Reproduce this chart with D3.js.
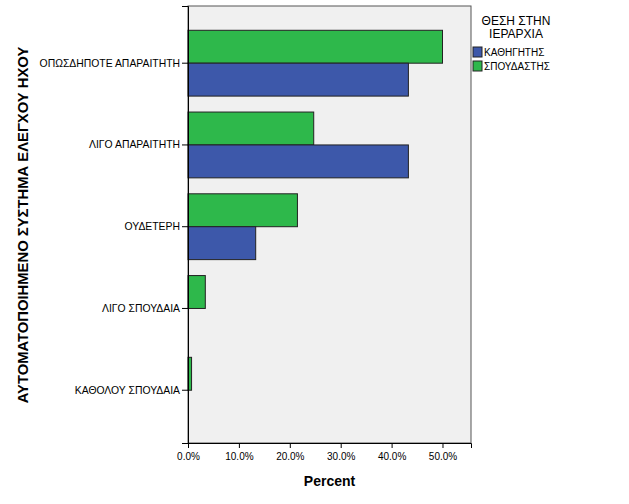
<!DOCTYPE html>
<html>
<head>
<meta charset="utf-8">
<script src="https://cdn.jsdelivr.net/npm/d3@7"></script>
<style>
  body { margin: 0; background: #fff; }
  svg { font-family: "Liberation Sans", Arial, sans-serif; }
</style>
</head>
<body>
<div id="chart"></div>
<script>
// categories top to bottom
const categories = ["ΟΠΩΣΔΗΠΟΤΕ ΑΠΑΡΑΙΤΗΤΗ", "ΛΙΓΟ ΑΠΑΡΑΙΤΗΤΗ", "ΟΥΔΕΤΕΡΗ", "ΛΙΓΟ ΣΠΟΥΔΑΙΑ", "ΚΑΘΟΛΟΥ ΣΠΟΥΔΑΙΑ"];
const seriesNames = ["ΚΑΘΗΓΗΤΗΣ", "ΣΠΟΥΔΑΣΤΗΣ"];
const profValues = [43.3, 43.3, 13.3, 0, 0];
const studValues = [50.0, 24.7, 21.5, 3.4, 0.7];
const xTicks = [0, 10, 20, 30, 40, 50];

const width = 629, height = 504;
const margin = { top: 6, right: 158, bottom: 61, left: 188 };
const colors = { "ΚΑΘΗΓΗΤΗΣ": "#3d58aa", "ΣΠΟΥΔΑΣΤΗΣ": "#2eb84b" };

const svg = d3.select("#chart").append("svg")
    .attr("width", width)
    .attr("height", height);

const x = d3.scaleLinear()
    .domain([0, 55.6])
    .range([margin.left, width - margin.right]);

const y = d3.scaleBand()
    .domain(categories)
    .range([margin.top, height - margin.bottom])
    .paddingInner(0.195)
    .paddingOuter(0.27)
    .align(0.55);

// green drawn on top half, blue on bottom half
const ySub = d3.scaleBand()
    .domain(["ΣΠΟΥΔΑΣΤΗΣ", "ΚΑΘΗΓΗΤΗΣ"])
    .range([0, y.bandwidth()]);

// plot background
svg.append("rect")
    .attr("x", margin.left)
    .attr("y", margin.top)
    .attr("width", width - margin.right - margin.left)
    .attr("height", height - margin.bottom - margin.top)
    .attr("fill", "#f0f0f0")
    .attr("stroke", "#555")
    .attr("stroke-width", 1);

const rows = categories.map((c, i) => ({
    cat: c,
    values: [
        { name: "ΣΠΟΥΔΑΣΤΗΣ", v: studValues[i] },
        { name: "ΚΑΘΗΓΗΤΗΣ", v: profValues[i] }
    ]
}));

svg.append("g")
    .selectAll("g")
    .data(rows)
    .enter()
    .append("g")
    .attr("transform", d => `translate(0,${y(d.cat)})`)
    .selectAll("rect")
    .data(d => d.values.filter(e => e.v > 0))
    .enter()
    .append("rect")
    .attr("x", x(0))
    .attr("y", d => ySub(d.name))
    .attr("width", d => x(d.v) - x(0))
    .attr("height", ySub.bandwidth())
    .attr("fill", d => colors[d.name])
    .attr("stroke", "#222")
    .attr("stroke-width", 1);

// x axis
const xAxis = d3.axisBottom(x)
    .tickValues(xTicks)
    .tickFormat(d => d.toFixed(1) + "%")
    .tickSizeOuter(0)
    .tickSize(5);

svg.append("g")
    .attr("transform", `translate(0,${height - margin.bottom})`)
    .call(xAxis)
    .call(g => g.select(".domain").attr("stroke", "#000"))
    .call(g => g.selectAll("text").attr("font-size", 10).attr("fill", "#000").attr("dy", "0.9em")
        .attr("font-family", "Liberation Sans, Arial, sans-serif"));

// y axis
const yAxis = d3.axisLeft(y).tickSizeOuter(0).tickSize(6).tickPadding(2);
svg.append("g")
    .attr("transform", `translate(${margin.left},0)`)
    .call(yAxis)
    .call(g => g.select(".domain").attr("stroke", "#000"))
    .call(g => g.selectAll("text").attr("font-size", 10.4).attr("fill", "#000")
        .attr("font-family", "Liberation Sans, Arial, sans-serif"));

// axis titles
svg.append("text")
    .attr("x", (margin.left + width - margin.right) / 2)
    .attr("y", 486)
    .attr("text-anchor", "middle")
    .attr("font-size", 14)
    .attr("font-weight", "bold")
    .text("Percent");

svg.append("text")
    .attr("transform", "translate(28,225) rotate(-90)")
    .attr("text-anchor", "middle")
    .attr("font-size", 14.8)
    .attr("font-weight", "bold")
    .text("ΑΥΤΟΜΑΤΟΠΟΙΗΜΕΝΟ ΣΥΣΤΗΜΑ ΕΛΕΓΧΟΥ ΗΧΟΥ");

// legend
const legend = svg.append("g");
legend.selectAll("text.title")
    .data(["ΘΕΣΗ ΣΤΗΝ", "ΙΕΡΑΡΧΙΑ"])
    .enter()
    .append("text")
    .attr("class", "title")
    .attr("x", 516)
    .attr("y", (d, i) => 25 + i * 13)
    .attr("text-anchor", "middle")
    .attr("font-size", 12)
    .text(d => d);

const items = legend.selectAll("g.item")
    .data(seriesNames)
    .enter()
    .append("g")
    .attr("class", "item")
    .attr("transform", (d, i) => `translate(473,${47 + i * 14})`);

items.append("rect")
    .attr("width", 9)
    .attr("height", 10)
    .attr("fill", d => colors[d])
    .attr("stroke", "#222");

items.append("text")
    .attr("x", 11)
    .attr("y", 9)
    .attr("font-size", 10)
    .text(d => d);
</script>
</body>
</html>
